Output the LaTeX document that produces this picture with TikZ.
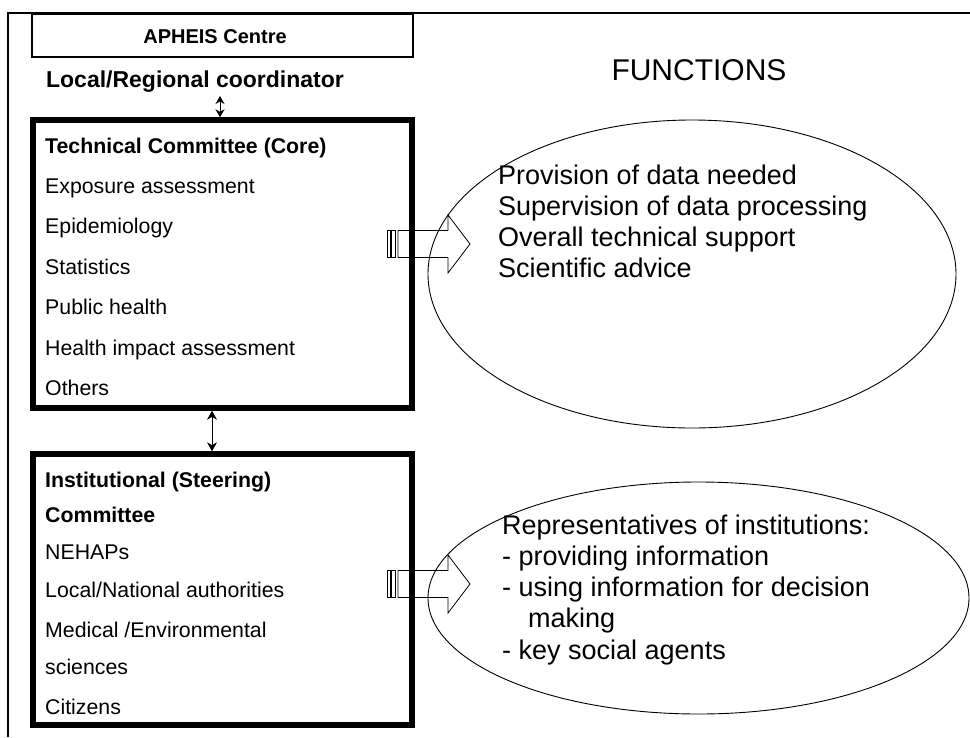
\documentclass[tikz,border=0pt]{standalone}
\usepackage{fontspec}
\setmainfont{Liberation Sans}
\usetikzlibrary{shapes.geometric,arrows.meta,calc}
\tikzset{
  itemtxt/.style={anchor=base west,inner sep=0pt,font=\fontsize{21.3}{25}\selectfont},
  titletxt/.style={anchor=base west,inner sep=0pt,font=\fontsize{21.3}{25}\selectfont\bfseries},
  elltxt/.style={anchor=base west,inner sep=0pt,font=\fontsize{27}{32}\selectfont},
  combox/.style={draw,line width=5.5pt,rectangle,minimum width=379pt,minimum height=#1,inner sep=0pt},
  funcell/.style={draw,line width=0.9pt,ellipse,inner sep=0pt},
  dblsmall/.style={{Stealth[length=8pt,width=9pt]}-{Stealth[length=8pt,width=9pt]},line width=0.9pt},
  dblbig/.style={{Stealth[length=9pt,width=10pt]}-{Stealth[length=9pt,width=10pt]},line width=0.9pt},
  stripedarrow/.pic={
    \draw[line width=0.8pt] (0,-13.5) rectangle (3,13.5);
    \draw[line width=0.8pt] (4.5,-13.5) rectangle (8.5,13.5);
    \draw[line width=0.8pt] (11,-13.5) -- (61,-13.5) -- (61,-29) -- (83,0) -- (61,29) -- (61,13.5) -- (11,13.5) -- cycle;
  }
}
\begin{document}
\begin{tikzpicture}[x=1pt,y=-1pt]
\useasboundingbox (0,0) rectangle (970,737);
% outer frame
\draw[line width=2pt] (8,737) -- (8,13) -- (970,13);
% top box
\node[draw,line width=1.3pt,minimum width=381pt,minimum height=43pt,inner sep=0pt] (apheis) at (222.5,35.5) {};
\node[anchor=base,inner sep=0pt,font=\fontsize{20}{24}\selectfont\bfseries] (apheistxt) at (215,43) {APHEIS Centre};
\node[anchor=base,inner sep=0pt,font=\fontsize{23}{27}\selectfont\bfseries] (lrc) at (195,87) {Local/Regional coordinator};
\node[anchor=base,inner sep=0pt,font=\fontsize{30}{34}\selectfont] (functions) at (699,80) {FUNCTIONS};
% committee boxes
\node[combox=288pt] (tech) at (222.5,264) {};
\node[combox=271pt] (inst) at (222.5,589.5) {};
% ellipses
\node[funcell,minimum width=528pt,minimum height=308pt] (f1) at (692,274) {};
\node[funcell,minimum width=541pt,minimum height=232pt] (f2) at (698.5,598) {};
% technical committee text
\node[titletxt] (t0) at (45,153) {Technical Committee (Core)};
\node[itemtxt] (t1) at (45,193) {Exposure assessment};
\node[itemtxt] (t2) at (45,233) {Epidemiology};
\node[itemtxt] (t3) at (45,274) {Statistics};
\node[itemtxt] (t4) at (45,314) {Public health};
\node[itemtxt] (t5) at (45,355) {Health impact assessment};
\node[itemtxt] (t6) at (45,395) {Others};
% institutional committee text
\node[titletxt] (i0) at (45,487) {Institutional (Steering)};
\node[titletxt] (i1) at (45,522) {Committee};
\node[itemtxt] (i2) at (45,559) {NEHAPs};
\node[itemtxt] (i3) at (45,597) {Local/National authorities};
\node[itemtxt] (i4) at (45,637) {Medical /Environmental};
\node[itemtxt] (i5) at (45,674) {sciences};
\node[itemtxt] (i6) at (45,714) {Citizens};
% ellipse 1 text
\node[elltxt] (e1a) at (498,184) {Provision of data needed};
\node[elltxt] (e1b) at (498,215) {Supervision of data processing};
\node[elltxt] (e1c) at (498,246) {Overall technical support};
\node[elltxt] (e1d) at (498,277) {Scientific advice};
% ellipse 2 text
\node[elltxt] (e2a) at (502,534) {Representatives of institutions:};
\node[elltxt] (e2b) at (502,565) {- providing information};
\node[elltxt] (e2c) at (502,596) {- using information for decision};
\node[elltxt] (e2d) at (528,627) {making};
\node[elltxt] (e2e) at (502,659) {- key social agents};
% connectors
\coordinate (c1) at (220,96);
\draw[dblsmall] (c1) -- (c1 |- tech.north);
\coordinate (c2) at (212,0);
\draw[dblbig] (c2 |- tech.south) -- (c2 |- inst.north);
% block arrows
\pic (a1) at (387,244) {stripedarrow};
\pic (a2) at (387,584) {stripedarrow};
\end{tikzpicture}
\end{document}
